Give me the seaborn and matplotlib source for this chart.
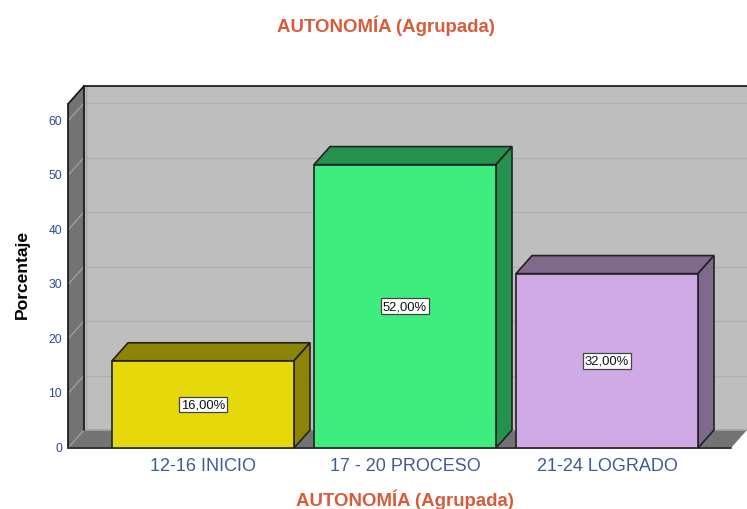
import matplotlib
matplotlib.use("Agg")
import matplotlib.pyplot as plt
from matplotlib.patches import Polygon
import pandas as pd
import seaborn as sns

title = "AUTONOMÍA (Agrupada)"
y_title = "Porcentaje"
categories = ["12-16 INICIO", "17 - 20 PROCESO", "21-24 LOGRADO"]
values = [16, 52, 32]
labels = ["16,00%", "52,00%", "32,00%"]
y_ticks = [0, 10, 20, 30, 40, 50, 60]
front_colors = ["#E5D90C", "#3FEC7E", "#CFAAE5"]
side_colors = ["#8C8406", "#25914F", "#7F6A8C"]

W, H = 747, 510
L, R, T, B = 68, 747, 87, 449
PX_X = 202.0      # pixels per category
PX_Y = 5.45       # pixels per percent
DX = 16 / PX_X    # depth of the 3D effect in data units
DY = 18 / PX_Y
EDGE = "#222222"

sns.set_theme(style="white")
plt.rcParams["font.family"] = ["Liberation Sans", "DejaVu Sans"]
fig = plt.figure(figsize=(W / 100, H / 100), dpi=100, facecolor="white")
ax = fig.add_axes([L / W, 1 - B / H, (R - L) / W, (B - T) / H])

df = pd.DataFrame({"cat": categories, "val": values})
sns.barplot(data=df, x="cat", y="val", hue="cat", palette=front_colors, legend=False,
            width=182 / PX_X, edgecolor=EDGE, linewidth=1.2, ax=ax, zorder=5, saturation=1)

x0 = (L - 203) / PX_X
x1 = (R - 203) / PX_X
ytop_back = (B - T) / PX_Y
ytop_front = ytop_back - DY
ax.set_xlim(x0, x1)
ax.set_ylim(0, ytop_back)
ax.set_facecolor("white")

def poly(pts, fc, ec="none", lw=0, z=1):
    ax.add_patch(Polygon(pts, closed=True, facecolor=fc, edgecolor=ec, linewidth=lw, zorder=z, clip_on=False))

def line(xs, ys, c, lw=1.2, z=2):
    ax.plot(xs, ys, color=c, lw=lw, zorder=z, clip_on=False, solid_capstyle="round")

# walls and floor
poly([(x0 + DX, DY), (x1, DY), (x1, ytop_back), (x0 + DX, ytop_back)], "#BEBEBE")
poly([(x0, 0), (x0 + DX, DY), (x0 + DX, ytop_back), (x0, ytop_front)], "#737373")
poly([(x0, 0), (x1 - DX, 0), (x1, DY), (x0 + DX, DY)], "#737373")

# gridlines
for t in y_ticks[1:]:
    line([x0, x0 + DX], [t, t + DY], "#A0A0A0", 0.9)
    line([x0 + DX, x1], [t + DY, t + DY], "#AEAEAE", 0.9)
line([x0, x0 + DX], [0, DY], "#A0A0A0", 0.9)
line([x0 + DX, x1], [DY, DY], "#A5A5A5", 1.2)
line([x0 + DX + 0.008, x0 + DX + 0.008], [DY, ytop_back], "#A8A8A8", 1.0)

# wall outlines
line([x0, x0], [0, ytop_front], "#111111")
line([x0, x0 + DX], [ytop_front, ytop_back], "#111111")
line([x0 + DX, x0 + DX], [DY, ytop_back], "#111111")
line([x0 + DX, x1], [ytop_back, ytop_back], "#111111")
line([x0, x1 - DX], [0, 0], "#333333", 1.4)

# bar depth and labels
for bar, val, lab, side in zip(ax.patches, values, labels, side_colors):
    a, b = bar.get_x(), bar.get_x() + bar.get_width()
    poly([(a, val), (b, val), (b + DX, val + DY), (a + DX, val + DY)], side, EDGE, 1.2, 4)
    poly([(b, 0), (b + DX, DY), (b + DX, val + DY), (b, val)], side, EDGE, 1.2, 4)
    ax.text((a + b) / 2, val / 2, lab, ha="center", va="center", fontsize=9.4, color="#111111", zorder=8,
            bbox=dict(boxstyle="square,pad=0.14", facecolor="white", edgecolor="#444444", linewidth=0.9))

for s in ax.spines.values():
    s.set_visible(False)
ax.set_yticks(y_ticks)
ax.set_xticks(range(len(categories)))
ax.set_xticklabels(categories)
ax.tick_params(axis="y", length=0, pad=4.3, labelsize=8.8, labelcolor="#2F4A8F")
ax.tick_params(axis="x", length=0, pad=6.5, labelsize=13, labelcolor="#3F5A9A")
for tick in ax.get_yticklabels():
    tick.set_verticalalignment("center")
ax.grid(False)

ax.set_xlabel(title, fontsize=13.4, fontweight="bold", color="#D95B3C")
ax.xaxis.set_label_coords((405 - L) / (R - L), (B - 500) / (B - T), transform=ax.transAxes)
ax.xaxis.label.set_verticalalignment("center")
ax.set_ylabel(y_title, fontsize=12.6, fontweight="bold", color="black")
ax.yaxis.set_label_coords((22 - L) / (R - L), (B - 274) / (B - T), transform=ax.transAxes)
ax.yaxis.label.set_verticalalignment("center")
fig.text(385.5 / W, 1 - 26 / H, title, ha="center", va="center", fontsize=13.4, fontweight="bold", color="#D95B3C")

fig.savefig("out.png", dpi=100, facecolor="white")
